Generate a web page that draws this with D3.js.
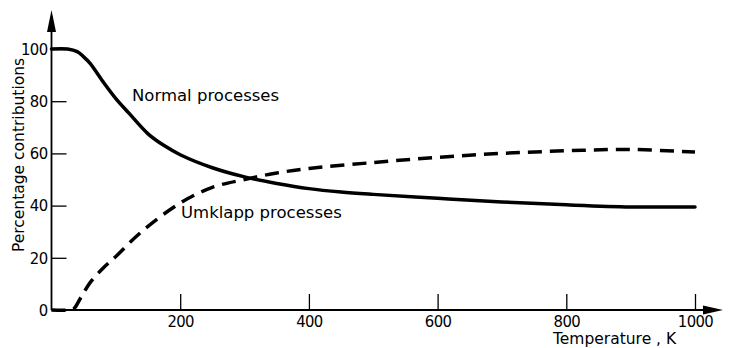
<!DOCTYPE html>
<html>
<head>
<meta charset="utf-8">
<script src="https://cdn.jsdelivr.net/npm/d3@7"></script>
<style>
    body { margin: 0; background: #fff; }
    svg { display: block; }
</style>
</head>
<body>
<svg id="chart"></svg>
<script>
// values
const normalT = [0, 25, 40, 50, 60, 80, 100, 120, 150, 175, 200, 250, 300, 350, 400, 450, 500, 600, 700, 800, 900, 1000];
const normalPct = [100, 100, 99, 97, 94.5, 87.5, 81, 75.5, 67.5, 63, 59.5, 54.5, 51, 48.5, 46.5, 45.2, 44.3, 42.8, 41.4, 40.3, 39.5, 39.5];
const umklappT = [0, 30, 35, 45, 60, 80, 100, 140, 200, 250, 300, 350, 400, 500, 600, 700, 800, 900, 1000];
const umklappPct = [0, 0, 0.5, 4.5, 10.5, 16, 20.5, 30, 41, 47, 50, 52.5, 54.2, 56.5, 58.5, 60, 61, 61.5, 60.5];
const xTicks = [200, 400, 600, 800, 1000];
const yTicks = [0, 20, 40, 60, 80, 100];

const width = 729;
const height = 348;
const x = d3.scaleLinear().domain([0, 1000]).range([51.5, 695]);
const y = d3.scaleLinear().domain([0, 100]).range([310, 49]);

const svg = d3.select("#chart")
    .attr("width", width)
    .attr("height", height);

const tickFont = "'DejaVu Sans Condensed', 'Liberation Sans Narrow', 'DejaVu Sans', sans-serif";
const textFont = "'DejaVu Sans', sans-serif";

// axes (ticks point inwards, no domain path)
const yAxis = svg.append("g")
    .attr("transform", `translate(${x(0)},0)`)
    .call(d3.axisLeft(y).tickValues(yTicks).tickSize(-15).tickPadding(4).tickFormat(d3.format("d")));
const xAxis = svg.append("g")
    .attr("transform", `translate(0,${y(0)})`)
    .call(d3.axisBottom(x).tickValues(xTicks).tickSize(-16).tickPadding(5).tickFormat(d3.format("d")));

[yAxis, xAxis].forEach(g => {
    g.select(".domain").remove();
    g.selectAll("line").attr("stroke", "#000").attr("stroke-width", 1.3);
    g.selectAll("text")
        .attr("fill", "#000")
        .style("font-family", tickFont)
        .style("font-stretch", "condensed")
        .style("font-size", "16.5px")
        .style("letter-spacing", "-0.6px");
});

// axis lines with arrow heads
svg.append("line")
    .attr("x1", x(0)).attr("y1", y(0))
    .attr("x2", x(0)).attr("y2", 28)
    .attr("stroke", "#000").attr("stroke-width", 1.8);
svg.append("path")
    .attr("d", `M${x(0)},10 L${x(0) - 4.5},32 L${x(0) + 4.5},32 Z`)
    .attr("fill", "#000");
svg.append("line")
    .attr("x1", x(0)).attr("y1", y(0))
    .attr("x2", 706).attr("y2", y(0))
    .attr("stroke", "#000").attr("stroke-width", 1.8);
svg.append("path")
    .attr("d", `M723,${y(0)} L703,${y(0) - 4.5} L703,${y(0) + 4.5} Z`)
    .attr("fill", "#000");

// curves
const line = d3.line()
    .x(d => x(d[0]))
    .y(d => y(d[1]))
    .curve(d3.curveCatmullRom.alpha(0.5));

svg.append("path")
    .datum(d3.zip(normalT, normalPct))
    .attr("d", line)
    .attr("fill", "none")
    .attr("stroke", "#000")
    .attr("stroke-width", 3.5)
    .attr("stroke-linecap", "round");

svg.append("path")
    .datum(d3.zip(umklappT, umklappPct))
    .attr("d", line)
    .attr("fill", "none")
    .attr("stroke", "#000")
    .attr("stroke-width", 3.5)
    .attr("stroke-dasharray", "14,8");

// labels
svg.append("text")
    .attr("x", 132).attr("y", 101)
    .style("font-family", textFont).style("font-size", "16.5px")
    .text("Normal processes");
svg.append("text")
    .attr("x", 181).attr("y", 218)
    .style("font-family", textFont).style("font-size", "16.5px")
    .text("Umklapp processes");
svg.append("text")
    .attr("x", 553).attr("y", 344)
    .style("font-family", textFont).style("font-size", "15.5px")
    .text("Temperature , K");
svg.append("text")
    .attr("transform", "translate(24,155) rotate(-90)")
    .attr("text-anchor", "middle")
    .style("font-family", textFont).style("font-size", "15.5px")
    .text("Percentage contributions");
</script>
</body>
</html>
